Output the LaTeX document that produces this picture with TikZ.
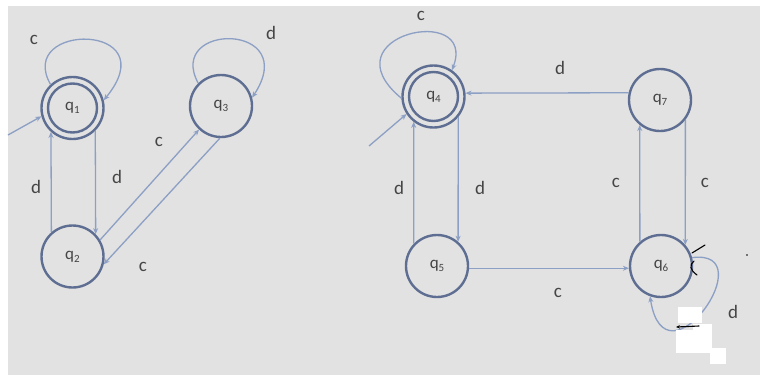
\documentclass[tikz,border=0pt]{standalone}
\usepackage{fontspec}
\setmainfont{Carlito}
\usetikzlibrary{arrows.meta}
\definecolor{bgc}{HTML}{E2E2E2}
\definecolor{edgec}{HTML}{8C9FC4}
\definecolor{ringc}{HTML}{5E6E92}
\definecolor{txtc}{HTML}{454545}
\newcommand{\qsub}[1]{q\raisebox{-0.35ex}{\fontsize{11}{11}\selectfont #1}}
\begin{document}
\begin{tikzpicture}[x=1pt,y=-1pt,
  state/.style={circle, draw=ringc, line width=2.4pt, minimum size=62pt, inner sep=0pt,
    font=\fontsize{17}{17}\selectfont, text=txtc},
  trans/.style={draw=edgec, line width=1.3pt, -{Stealth[length=6pt,width=5pt]}},
  lbl/.style={font=\fontsize{19}{19}\selectfont, text=txtc, inner sep=0pt},
  patch/.style={fill=white, draw=none},
  scrib/.style={draw=black, line width=1.1pt, line cap=round}]
\useasboundingbox (0,0) rectangle (760,375);
\fill[white] (0,0) rectangle (760,375);
\fill[bgc] (8,6) rectangle (760,375);

% states
\node[state] (q1) at (72.5,108) {\qsub{1}};
\node[state] (q2) at (72.5,256.5) {\qsub{2}};
\node[state] (q3) at (221,106) {\qsub{3}};
\node[state] (q4) at (433.5,96.5) {\qsub{4}};
\node[state] (q5) at (437,266) {\qsub{5}};
\node[state] (q7) at (660,100) {\qsub{7}};
\node[state] (q6) at (661,266) {\qsub{6}};
\draw[ringc, line width=2.4pt] (q1.center) circle (24.5pt);
\draw[ringc, line width=2.4pt] (q4.center) circle (24.5pt);

% initial arrows
\coordinate (i1) at (8,135);
\coordinate (i4) at (369,146);
\draw[trans] (i1) -- (q1.195);
\draw[trans] (i4) -- (q4.213);

% left automaton
\draw[trans] (q2.131) -- (q1.228);
\draw[trans] (q1.-45) -- (q2.44);
\draw[trans] (q2.31) -- (q3.227);
\draw[trans] (q3.268) -- (q2.-14);
\draw[trans] (q1.133) .. controls (15,22) and (168,22) .. (q1.14);
\draw[trans] (q3.135) .. controls (165,22) and (302,22) .. (q3.15);

% right automaton
\draw[trans] (q7.167) -- (q4.6);
\draw[trans] (q4.-40) -- (q5.49);
\draw[trans] (q5.136) -- (q4.232);
\draw[trans] (q5.-4) -- (q6.184);
\draw[trans] (q6.131) -- (q7.231);
\draw[trans] (q7.-38) -- (q6.41);
\draw[trans] (q4.183) .. controls (325,35) and (478,2) .. (q4.55);
\draw[trans] (q6.15) .. controls (765,248) and (665,392) .. (q6.250);

% labels
\node[lbl] (l1) at (34,40) {c};
\node[lbl] (l2) at (271,33) {d};
\node[lbl] (l3) at (36,187) {d};
\node[lbl] (l4) at (117,177) {d};
\node[lbl] (l5) at (159,142) {c};
\node[lbl] (l6) at (143,267) {c};
\node[lbl] (l7) at (421,16) {c};
\node[lbl] (l8) at (560,68) {d};
\node[lbl] (l9) at (399,188) {d};
\node[lbl] (l10) at (480,188) {d};
\node[lbl] (l11) at (616,183) {c};
\node[lbl] (l12) at (705,183) {c};
\node[lbl] (l13) at (558,293) {c};
\node[lbl] (l14) at (733,312) {d};

% white patches and hand marks near q6
\fill[patch] (678,307) rectangle (702,323);
\fill[patch] (676,330) rectangle (712,353);
\fill[patch] (693,324) rectangle (712,330);
\fill[patch] (710,348) rectangle (726,364);
\draw[scrib] (692,253) -- (705,245);
\draw[scrib] (694,261) .. controls (689,265) and (690,270) .. (697,275);
\draw[scrib, -{Stealth[length=4pt,width=3.5pt]}] (699,326) -- (676,327);
\fill[black] (747,255) circle (0.8pt);
\end{tikzpicture}
\end{document}
